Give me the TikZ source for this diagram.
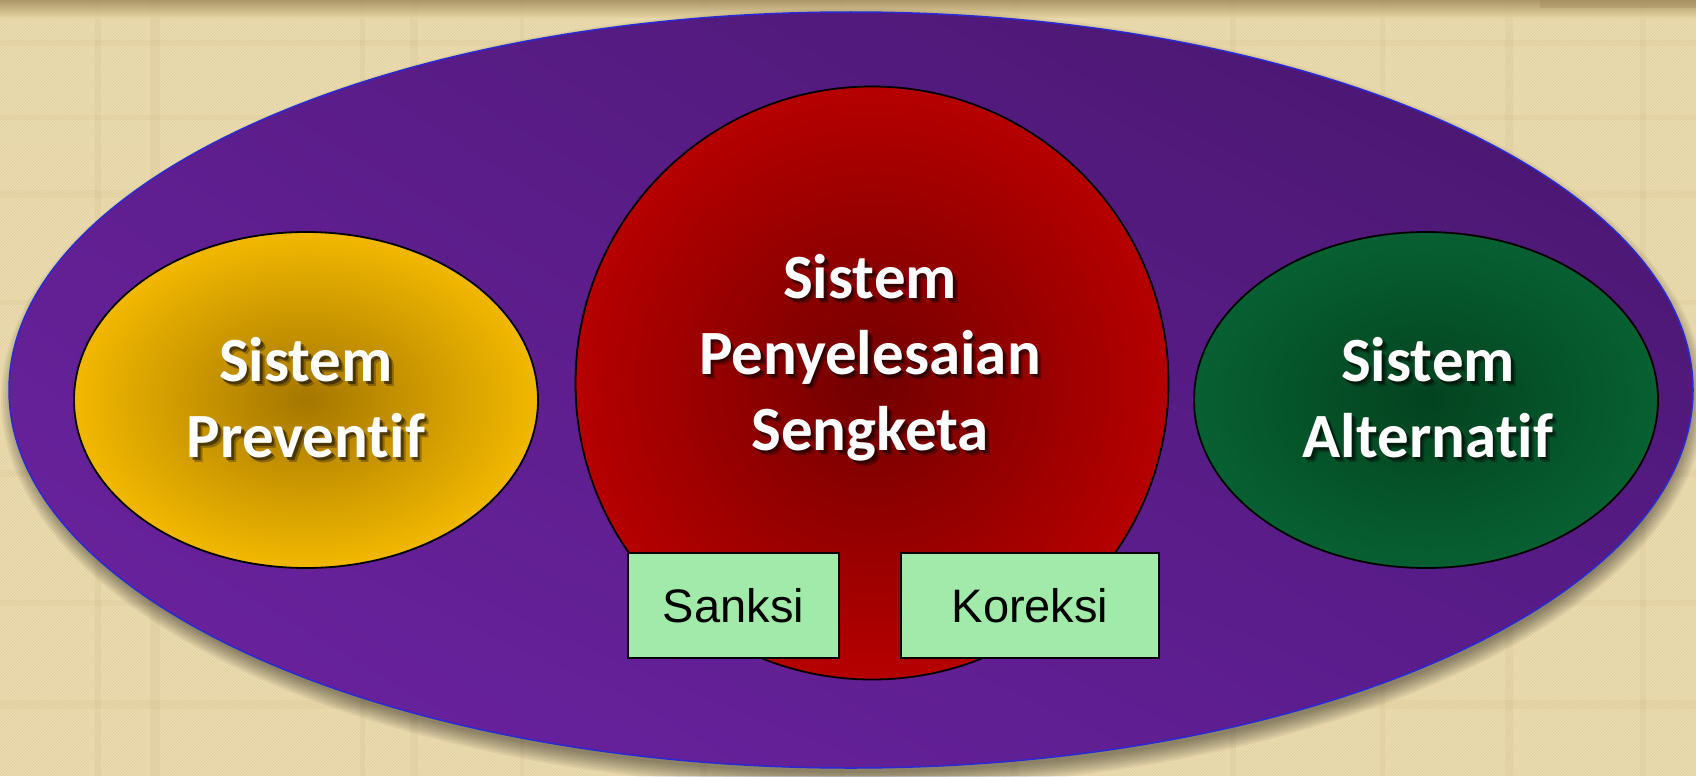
\documentclass[tikz,border=0pt]{standalone}
\usepackage{fontspec}
\usetikzlibrary{shapes.geometric,patterns,shadings}
\newfontfamily\labelfont[Ligatures=NoCommon]{Carlito}
\newfontfamily\boxfont{Liberation Sans}

\definecolor{paper}{HTML}{E6D4A2}
\definecolor{paperdark}{HTML}{9E8758}
\definecolor{fibre}{HTML}{B8A06A}
\definecolor{rimblue}{HTML}{2A2AD2}
\definecolor{purpleUL}{HTML}{5E1E8E}
\definecolor{purpleUR}{HTML}{46166A}
\definecolor{purpleLL}{HTML}{6C24A2}
\definecolor{purpleLR}{HTML}{5A1C8C}
\definecolor{goldin}{HTML}{A57700}
\definecolor{goldout}{HTML}{F2B800}
\definecolor{redin}{HTML}{720000}
\definecolor{redout}{HTML}{B60000}
\definecolor{greenin}{HTML}{03431F}
\definecolor{greenout}{HTML}{076032}
\definecolor{mint}{HTML}{A2EAAA}

% one caption line with a soft dark shadow drawn behind it
\newcommand\shadowed[1]{\leavevmode
  \rlap{\color{black}\pgfsetfillopacity{.28}\kern4.5pt\raisebox{-4.5pt}{#1}}%
  \rlap{\color{black}\pgfsetfillopacity{.45}\kern2.5pt\raisebox{-2.5pt}{#1}}%
  \pgfsetfillopacity{1}#1}

\tikzset{
  outline/.style={draw=black, line width=1.8pt},
  blob/.style={ellipse, inner sep=0pt, outline},
  subbox/.style={rectangle, draw=black, line width=1.8pt, fill=mint,
    inner sep=0pt, minimum height=105pt,
    font=\boxfont\fontsize{47}{56}\selectfont},
  caption/.style={align=center, text=white,
    font=\labelfont\bfseries\fontsize{63}{76}\selectfont},
}

\begin{document}
\begin{tikzpicture}[x=1pt,y=-1pt]
  \useasboundingbox (0,0) rectangle (1696,776);

  % parchment backdrop
  \fill[paper] (0,0) rectangle (1696,776);
  \fill[pattern=north east lines, pattern color=white, opacity=.28] (0,0) rectangle (1696,776);
  \foreach \xx/\ww in {95/6, 150/10, 360/5, 410/8, 520/4, 700/7, 840/5, 1010/9, 1230/6, 1380/5, 1505/8, 1640/6}
    \fill[fibre, opacity=.10] (\xx,0) rectangle ++(\ww,776);
  \foreach \yy/\hh in {40/6, 115/5, 190/8, 300/5, 470/7, 600/6, 700/9}
    \fill[fibre, opacity=.08] (0,\yy) rectangle ++(1696,\hh);
  \shade[top color=paperdark, bottom color=paper, opacity=.8] (0,0) rectangle (1696,18);
  \fill[paperdark, opacity=.35] (1540,0) rectangle (1696,8);

  % soft drop shadow of the outer ellipse
  \foreach \k in {0,2,...,16}
    \fill[black, opacity=.05] (853,399) ellipse ({836+\k} and {374+\k});

  % outer frame
  \node[ellipse, inner sep=0pt, minimum width=1684pt, minimum height=756pt,
        draw=rimblue, line width=1.5pt,
        upper left=purpleUL, upper right=purpleUR,
        lower left=purpleLL, lower right=purpleLR] (frame) at (851,390) {};

  % the three systems
  \node[blob, minimum width=464pt, minimum height=336pt,
        inner color=goldin, outer color=goldout] (prev) at (306,400) {};
  \node[blob, minimum width=464pt, minimum height=336pt,
        inner color=greenin, outer color=greenout] (alt) at (1426,400) {};
  \node[circle, inner sep=0pt, minimum size=593pt, outline,
        inner color=redin, outer color=redout] (core) at (872,383) {};

  % sub-boxes of the dispute-settlement system
  \node[subbox, minimum width=211pt] (sanksi) at (733.5,605.5) {Sanksi};
  \node[subbox, minimum width=258pt] (koreksi) at (1030,605.5) {Koreksi};

  % captions
  \node[caption] (prevT) at (306,400) {\shadowed{Sistem}\\\shadowed{Preventif}};
  \node[caption] (coreT) at (870,360) {\shadowed{Sistem}\\\shadowed{Penyelesaian}\\\shadowed{Sengketa}};
  \node[caption] (altT) at (1428,400) {\shadowed{Sistem}\\\shadowed{Alternatif}};
\end{tikzpicture}
\end{document}
